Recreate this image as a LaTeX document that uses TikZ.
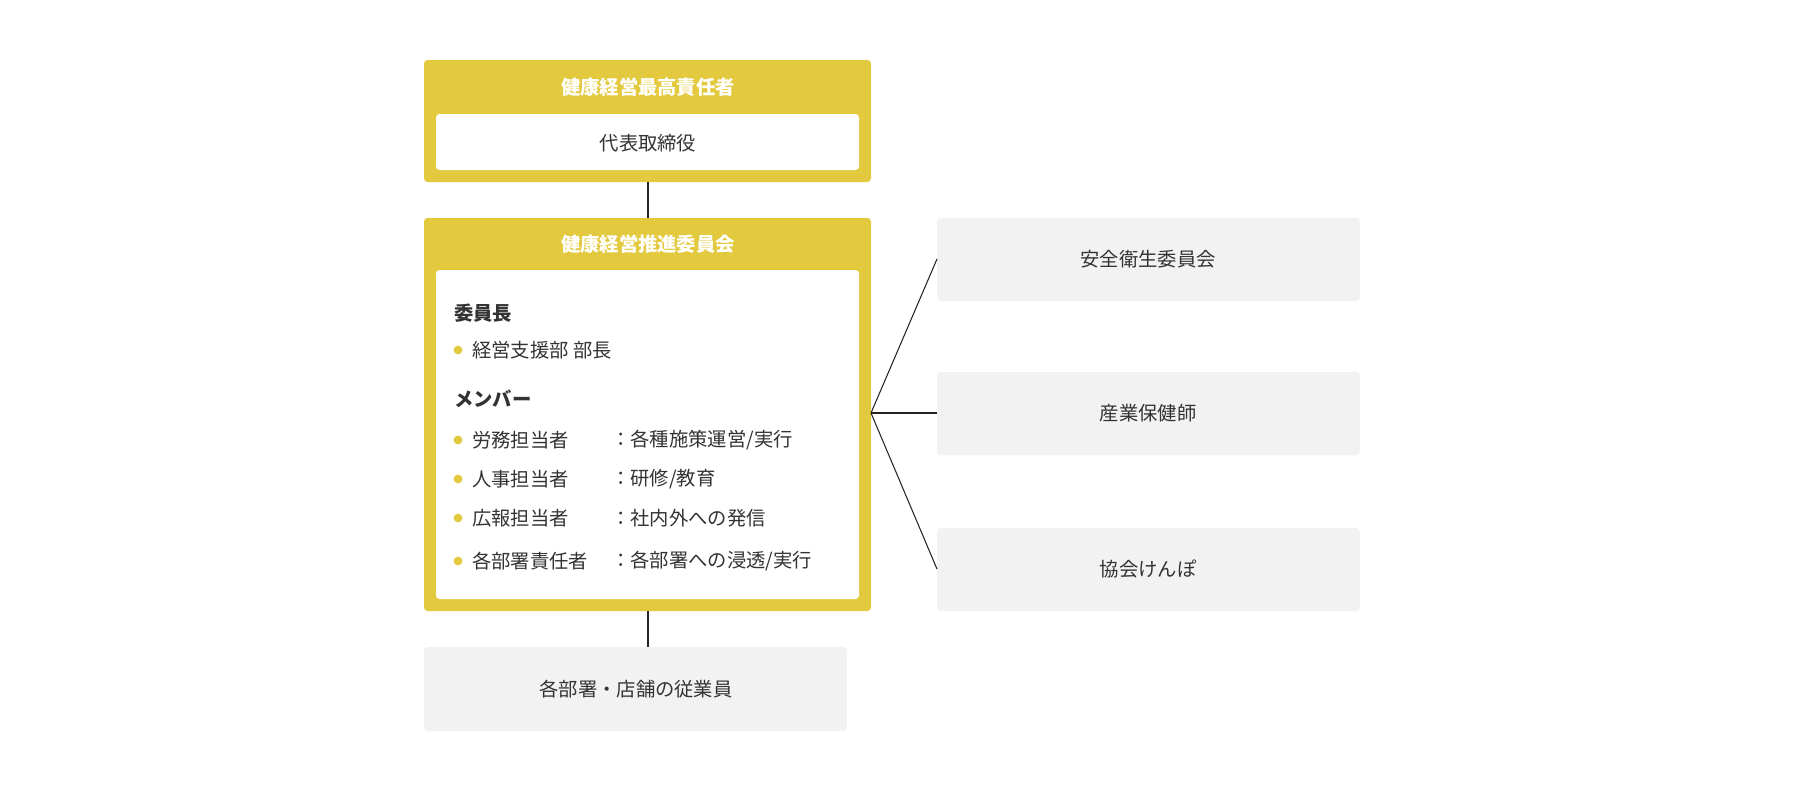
\documentclass[tikz,border=0pt]{standalone}
\usepackage{fontspec}
\setmainfont{Noto Sans CJK JP}
\usetikzlibrary{positioning}
\definecolor{goldcolor}{RGB}{227, 201, 62}
\definecolor{graycolor}{RGB}{242, 242, 242}
\definecolor{textcolor}{RGB}{51, 51, 51}
\definecolor{linecolor}{RGB}{40, 35, 30}

\begin{document}
\begin{tikzpicture}[
    x=0.02cm, y=-0.02cm,
    every node/.style={font=\fontsize{11}{14}\selectfont, text=textcolor},
    goldbox/.style={fill=goldcolor, rounded corners=2pt},
    whitebox/.style={fill=white, rounded corners=2pt},
    graybox/.style={fill=graycolor, rounded corners=2pt},
    title/.style={text=white, font=\fontsize{11}{14}\selectfont\bfseries},
    head/.style={anchor=west, font=\fontsize{11}{14}\selectfont\bfseries},
    item/.style={anchor=west},
    dotmark/.style={fill=goldcolor, circle, inner sep=0pt, minimum size=5pt},
    conn/.style={draw=linecolor, line width=0.6pt},
]
\useasboundingbox (0,0) rectangle (1797,792);

% ============ 最高責任者 ============
\fill[goldbox] (424,60) rectangle (871,182);
\fill[whitebox] (436,114) rectangle (859,170);
\node[title] (ceo_title) at (648,87) {健康経営最高責任者};
\node (ceo) at (648,143) {代表取締役};
\coordinate (ceo_bot) at (648,182);

% ============ 推進委員会 ============
\fill[goldbox] (424,218) rectangle (871,611);
\fill[whitebox] (436,270) rectangle (859,599);
\coordinate (comm_top) at (648,218);
\coordinate (comm_bot) at (648,611);
\coordinate (comm_right) at (871,413);
\node[title] (comm_title) at (648,244) {健康経営推進委員会};

\node[head] (chair) at (448,313) {委員長};
\node[dotmark] (d0) at (458,350) {};
\node[item] (chair_name) at (466,350) {経営支援部 部長};
\node[head] (members) at (448,399) {メンバー};
\foreach \y/\role/\task [count=\i] in {
    440/労務担当者/各種施策運営{/}実行,
    479/人事担当者/研修{/}教育,
    518/広報担当者/社内外への発信,
    561/各部署責任者/各部署への浸透{/}実行} {
  \node[dotmark] (d\i) at (458,\y) {};
  \node[item] (role\i) at (466,\y) {\role};
  \node[item] (task\i) at (605,\y) {：\task};
}

% ============ 従業員 ============
\fill[graybox] (424,647) rectangle (847,731);
\node (staff) at (636,689) {各部署・店舗の従業員};
\coordinate (staff_top) at (648,647);

% ============ 連携先 ============
\foreach \y/\name/\lbl in {218/safety/安全衛生委員会, 372/nurse/産業保健師, 528/kenpo/協会けんぽ} {
  \fill[graybox] (937,\y) rectangle (1360,\y+83);
  \node (\name) at (1148,\y+41) {\lbl};
  \coordinate (\name_left) at (937,\y+41);
}

% ============ 線 ============
\draw[conn] (ceo_bot) -- (comm_top);
\draw[conn] (comm_bot) -- (staff_top);
\draw[conn] (comm_right) -- (safety_left);
\draw[conn] (comm_right) -- (nurse_left);
\draw[conn] (comm_right) -- (kenpo_left);

\end{tikzpicture}
\end{document}
